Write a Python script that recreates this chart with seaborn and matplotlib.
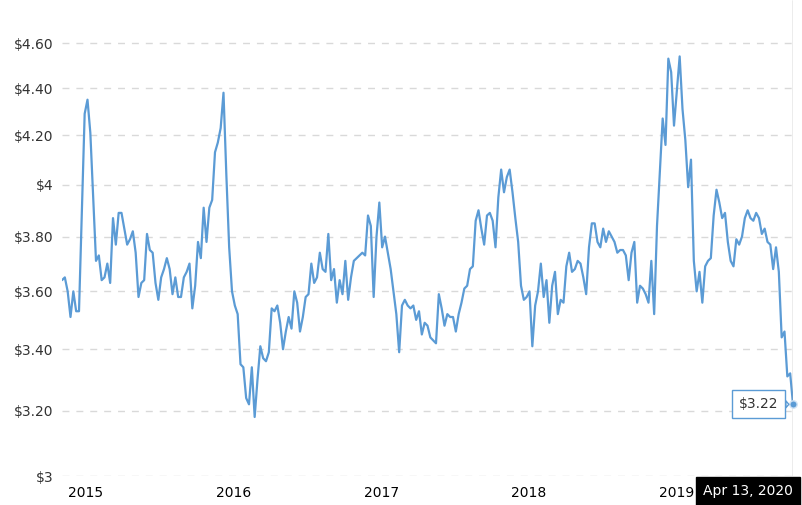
import pandas as pd
import matplotlib
matplotlib.use("Agg")
import matplotlib.pyplot as plt
import matplotlib.dates as mdates
from matplotlib.ticker import FixedLocator, FixedFormatter, NullLocator
import seaborn as sns

# weekly average price, last reading Apr 13, 2020
prices = [
    3.64, 3.65, 3.60, 3.51, 3.60, 3.53, 3.53, 3.89, 4.29, 4.35,
    4.21, 3.95, 3.71, 3.73, 3.64, 3.65, 3.70, 3.63, 3.87, 3.77,
    3.89, 3.89, 3.83, 3.77, 3.79, 3.82, 3.74, 3.58, 3.63, 3.64,
    3.81, 3.75, 3.74, 3.63, 3.57, 3.65, 3.68, 3.72, 3.68, 3.59,
    3.65, 3.58, 3.58, 3.65, 3.67, 3.70, 3.54, 3.62, 3.78, 3.72,
    3.91, 3.78, 3.91, 3.94, 4.13, 4.17, 4.23, 4.38, 4.04, 3.76,
    3.60, 3.55, 3.52, 3.35, 3.34, 3.24, 3.22, 3.34, 3.18, 3.30,
    3.41, 3.37, 3.36, 3.39, 3.54, 3.53, 3.55, 3.49, 3.40, 3.46,
    3.51, 3.47, 3.60, 3.56, 3.46, 3.51, 3.58, 3.59, 3.70, 3.63,
    3.65, 3.74, 3.68, 3.67, 3.81, 3.64, 3.68, 3.56, 3.64, 3.59,
    3.71, 3.57, 3.65, 3.71, 3.72, 3.73, 3.74, 3.73, 3.88, 3.84,
    3.58, 3.80, 3.93, 3.76, 3.80, 3.74, 3.68, 3.60, 3.52, 3.39,
    3.55, 3.57, 3.55, 3.54, 3.55, 3.50, 3.53, 3.45, 3.49, 3.48,
    3.44, 3.43, 3.42, 3.59, 3.54, 3.48, 3.52, 3.51, 3.51, 3.46,
    3.52, 3.56, 3.61, 3.62, 3.68, 3.69, 3.86, 3.90, 3.83, 3.77,
    3.88, 3.89, 3.86, 3.76, 3.95, 4.06, 3.97, 4.03, 4.06, 3.97,
    3.87, 3.78, 3.62, 3.57, 3.58, 3.60, 3.41, 3.55, 3.60, 3.70,
    3.58, 3.64, 3.49, 3.62, 3.67, 3.52, 3.57, 3.56, 3.69, 3.74,
    3.67, 3.68, 3.71, 3.70, 3.65, 3.59, 3.76, 3.85, 3.85, 3.78,
    3.76, 3.83, 3.78, 3.82, 3.80, 3.78, 3.74, 3.75, 3.75, 3.73,
    3.64, 3.74, 3.78, 3.56, 3.62, 3.61, 3.59, 3.56, 3.71, 3.52,
    3.84, 4.05, 4.27, 4.16, 4.53, 4.47, 4.24, 4.39, 4.54, 4.31,
    4.18, 3.99, 4.10, 3.71, 3.60, 3.67, 3.56, 3.69, 3.71, 3.72,
    3.88, 3.98, 3.93, 3.87, 3.89, 3.78, 3.71, 3.69, 3.79, 3.77,
    3.80, 3.87, 3.90, 3.87, 3.86, 3.89, 3.87, 3.81, 3.83, 3.78,
    3.77, 3.68, 3.76, 3.67, 3.44, 3.46, 3.31, 3.32, 3.22,
]
last_date = "2020-04-13"
y_ticks = [3.0, 3.2, 3.4, 3.6, 3.8, 4.0, 4.2, 4.4, 4.6]
y_tick_labels = ["$3", "$3.20", "$3.40", "$3.60", "$3.80", "$4", "$4.20", "$4.40", "$4.60"]

dates = pd.date_range(end=last_date, periods=len(prices), freq="7D")
df = pd.DataFrame({"date": dates, "price": prices})

line_color = "#5b9bd5"
text_color = "#333333"

sns.set_style("white")
plt.rcParams["font.family"] = ["DejaVu Sans"]

fig = plt.figure(figsize=(8.03, 5.05), dpi=100)
ax = fig.add_axes([62 / 803, 29 / 505, 731 / 803, 476 / 505])

sns.lineplot(data=df, x="date", y="price", ax=ax, color=line_color, linewidth=1.6)

ax.set_yscale("log")
ax.set_ylim(3.0, 4.8)
ax.set_xlim(dates[0], dates[-1])
ax.yaxis.set_major_locator(FixedLocator(y_ticks))
ax.yaxis.set_major_formatter(FixedFormatter(y_tick_labels))
ax.yaxis.set_minor_locator(NullLocator())
ax.xaxis.set_major_locator(mdates.YearLocator(month=7))
ax.xaxis.set_major_formatter(mdates.DateFormatter("%Y"))

ax.grid(axis="y", color="#d9d9d9", linewidth=1, linestyle=(0, (5, 5)))
ax.grid(axis="x", visible=False)
ax.tick_params(axis="y", length=0, pad=6, labelsize=10, labelcolor=text_color)
ax.tick_params(axis="x", length=0, pad=7, labelsize=10, labelcolor="black")
for side in ["top", "right", "bottom", "left"]:
    ax.spines[side].set_visible(False)
ax.set_xlabel("")
ax.set_ylabel("")

# crosshair at the latest reading
ax.axvline(dates[-1], color="#a0a0a0", linewidth=1)
ax.scatter([dates[-1]], [prices[-1]], s=28, color=line_color,
           edgecolor="#cfe1f3", linewidth=1, zorder=5, clip_on=False)

ax.annotate(f"${prices[-1]:.2f}", xy=(dates[-1], prices[-1]),
            xytext=(-10.5, 0), textcoords="offset points",
            ha="right", va="center", fontsize=10, color=text_color,
            bbox=dict(boxstyle="square,pad=0.5", fc="white", ec=line_color, lw=1),
            arrowprops=dict(arrowstyle="wedge,tail_width=0.5", fc="white",
                            ec=line_color, lw=1, shrinkA=0, shrinkB=3),
            annotation_clip=False, zorder=6)

ax.annotate(dates[-1].strftime("%b %d, %Y"), xy=(dates[-1], 0),
            xycoords=("data", "axes fraction"),
            xytext=(0, -10.5), textcoords="offset points",
            ha="right", va="center", fontsize=10, color="white",
            bbox=dict(boxstyle="square,pad=0.5", fc="black", ec="black"),
            annotation_clip=False, zorder=7)

fig.savefig("out.png", dpi=100)
